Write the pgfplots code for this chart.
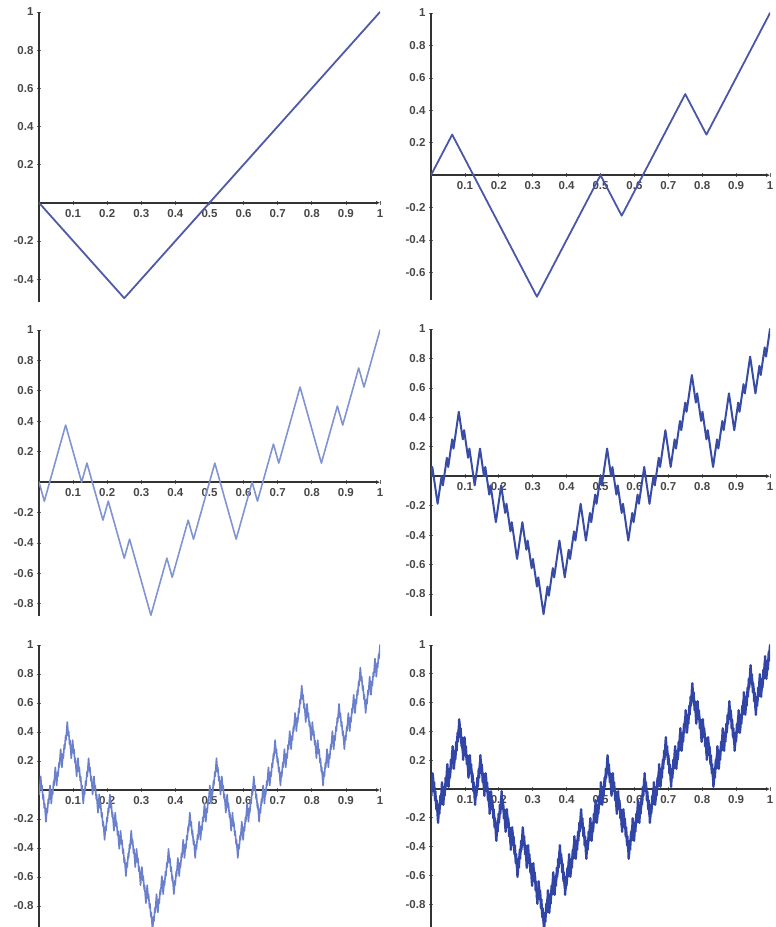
\documentclass[border=0pt]{standalone}
\usepackage{fontspec}
\setmainfont{Liberation Sans}
\usepackage{pgfplots}
\pgfplotsset{compat=1.18}
\usepackage{pgfplotstable}
\usetikzlibrary{arrows.meta}

\definecolor{c1}{rgb}{0.31,0.35,0.66}
\definecolor{c2}{rgb}{0.29,0.34,0.66}
\definecolor{c3}{rgb}{0.50,0.58,0.83}
\definecolor{c4}{rgb}{0.22,0.30,0.65}
\definecolor{c5}{rgb}{0.42,0.50,0.80}
\definecolor{c6}{rgb}{0.19,0.27,0.65}

% level 1: x/4, y/2
\pgfplotstableread{
X Y
0 0
1 -1
4 2
}\kone

% level 2: x/16, y/4
\pgfplotstableread{
X Y
0 0
1 1
5 -3
8 0
9 -1
12 2
13 1
16 4
}\ktwo

% level 3: x/64, y/8
\pgfplotstableread{
X Y
0 0
1 -1
5 3
8 0
9 1
12 -2
13 -1
16 -4
17 -3
21 -7
24 -4
25 -5
28 -2
29 -3
33 1
37 -3
40 0
41 -1
44 2
45 1
49 5
53 1
56 4
57 3
60 6
61 5
64 8
}\kthree

% level 4: x/256, y/16
\pgfplotstableread{
X Y
0 0
1 1
5 -3
8 0
9 -1
12 2
13 1
16 4
17 3
21 7
24 4
25 5
28 2
29 3
33 -1
37 3
40 0
41 1
44 -2
45 -1
49 -5
53 -1
56 -4
57 -3
60 -6
61 -5
65 -9
69 -5
72 -8
73 -7
76 -10
77 -9
80 -12
81 -11
85 -15
88 -12
89 -13
92 -10
93 -11
97 -7
101 -11
104 -8
105 -9
108 -6
109 -7
113 -3
117 -7
120 -4
121 -5
124 -2
125 -3
128 0
129 -1
133 3
136 0
137 1
140 -2
141 -1
144 -4
145 -3
149 -7
152 -4
153 -5
156 -2
157 -3
161 1
165 -3
168 0
169 -1
172 2
173 1
177 5
181 1
184 4
185 3
188 6
189 5
192 8
193 7
197 11
200 8
201 9
204 6
205 7
208 4
209 5
213 1
216 4
217 3
220 6
221 5
225 9
229 5
232 8
233 7
236 10
237 9
241 13
245 9
248 12
249 11
252 14
253 13
256 16
}\kfour

% one rescaled copy of the level-4 table
\newcommand\kpiece[5]{%
  \addplot[#1] table[x expr={(\thisrow{X}+#2)/#3}, y expr={#4+(#5)*(\thisrow{Y})/16}] {\kfour};}

\pgfplotsset{
  kpanel/.style={
    scale only axis, width=341pt,
    xmin=0, xmax=1, ymax=1,
    axis lines=middle,
    axis line style={draw=black!80, line width=1.5pt},
    x axis line style={-{Latex[length=4pt,width=4pt]}},
    y axis line style={-},
    xtick={0.1,0.2,0.3,0.4,0.5,0.6,0.7,0.8,0.9,1},
    major tick length=4pt, tick align=center,
    tick style={draw=black!60, line width=0.7pt},
    ticklabel style={font=\bfseries\fontsize{11.5}{13}\selectfont, text=black!72},
    xticklabel style={yshift=-1pt},
    /pgf/number format/assume math mode=true,
    clip=true,
  },
  kline/.style={draw=#1, line join=round, line cap=round, mark=none},
}

\begin{document}
\begin{tikzpicture}
\useasboundingbox (0,0) rectangle (776pt,927pt);

% level 1
\begin{axis}[kpanel, at={(39pt,625pt)}, anchor=south west, height=290pt, ymin=-0.52,
  ytick={-0.4,-0.2,0.2,0.4,0.6,0.8,1}]
\addplot[kline=c1, line width=1.8pt] table[x expr=\thisrow{X}/4, y expr=\thisrow{Y}/2] {\kone};
\end{axis}

% level 2
\begin{axis}[kpanel, at={(431pt,627pt)}, anchor=south west, width=339pt, height=287pt, ymin=-0.77,
  ytick={-0.6,-0.4,-0.2,0.2,0.4,0.6,0.8,1}]
\addplot[kline=c2, line width=1.8pt] table[x expr=\thisrow{X}/16, y expr=\thisrow{Y}/4] {\ktwo};
\end{axis}

% level 3
\begin{axis}[kpanel, at={(39pt,311pt)}, anchor=south west, height=286pt, ymin=-0.88,
  ytick={-0.8,-0.6,-0.4,-0.2,0.2,0.4,0.6,0.8,1}]
\addplot[kline=c3, line width=1.6pt] table[x expr=\thisrow{X}/64, y expr=\thisrow{Y}/8] {\kthree};
\end{axis}

% level 4
\begin{axis}[kpanel, at={(431pt,311pt)}, anchor=south west, width=339pt, height=287pt, ymin=-0.95,
  ytick={-0.8,-0.6,-0.4,-0.2,0.2,0.4,0.6,0.8,1}]
\addplot[kline=c4, line width=2.0pt] table[x expr=\thisrow{X}/256, y expr=\thisrow{Y}/16] {\kfour};
\end{axis}

% level 5
\begin{axis}[kpanel, at={(39pt,0pt)}, anchor=south west, height=282pt, ymin=-0.945,
  ytick={-0.8,-0.6,-0.4,-0.2,0.2,0.4,0.6,0.8,1}]
\kpiece{kline=c5, line width=1.6pt}{0}{1024}{0}{-0.5}
\kpiece{kline=c5, line width=1.6pt}{256}{1024}{-0.5}{0.5}
\kpiece{kline=c5, line width=1.6pt}{512}{1024}{0}{0.5}
\kpiece{kline=c5, line width=1.6pt}{768}{1024}{0.5}{0.5}
\end{axis}

% level 6
\begin{axis}[kpanel, at={(431pt,0pt)}, anchor=south west, width=339pt, height=282pt, ymin=-0.958,
  ytick={-0.8,-0.6,-0.4,-0.2,0.2,0.4,0.6,0.8,1}]
\kpiece{kline=c6, line width=2.4pt}{0}{4096}{0}{0.25}
\kpiece{kline=c6, line width=2.4pt}{256}{4096}{0.25}{-0.25}
\kpiece{kline=c6, line width=2.4pt}{512}{4096}{0}{-0.25}
\kpiece{kline=c6, line width=2.4pt}{768}{4096}{-0.25}{-0.25}
\kpiece{kline=c6, line width=2.4pt}{1024}{4096}{-0.5}{-0.25}
\kpiece{kline=c6, line width=2.4pt}{1280}{4096}{-0.75}{0.25}
\kpiece{kline=c6, line width=2.4pt}{1536}{4096}{-0.5}{0.25}
\kpiece{kline=c6, line width=2.4pt}{1792}{4096}{-0.25}{0.25}
\kpiece{kline=c6, line width=2.4pt}{2048}{4096}{0}{-0.25}
\kpiece{kline=c6, line width=2.4pt}{2304}{4096}{-0.25}{0.25}
\kpiece{kline=c6, line width=2.4pt}{2560}{4096}{0}{0.25}
\kpiece{kline=c6, line width=2.4pt}{2816}{4096}{0.25}{0.25}
\kpiece{kline=c6, line width=2.4pt}{3072}{4096}{0.5}{-0.25}
\kpiece{kline=c6, line width=2.4pt}{3328}{4096}{0.25}{0.25}
\kpiece{kline=c6, line width=2.4pt}{3584}{4096}{0.5}{0.25}
\kpiece{kline=c6, line width=2.4pt}{3840}{4096}{0.75}{0.25}
\end{axis}
\end{tikzpicture}
\end{document}
